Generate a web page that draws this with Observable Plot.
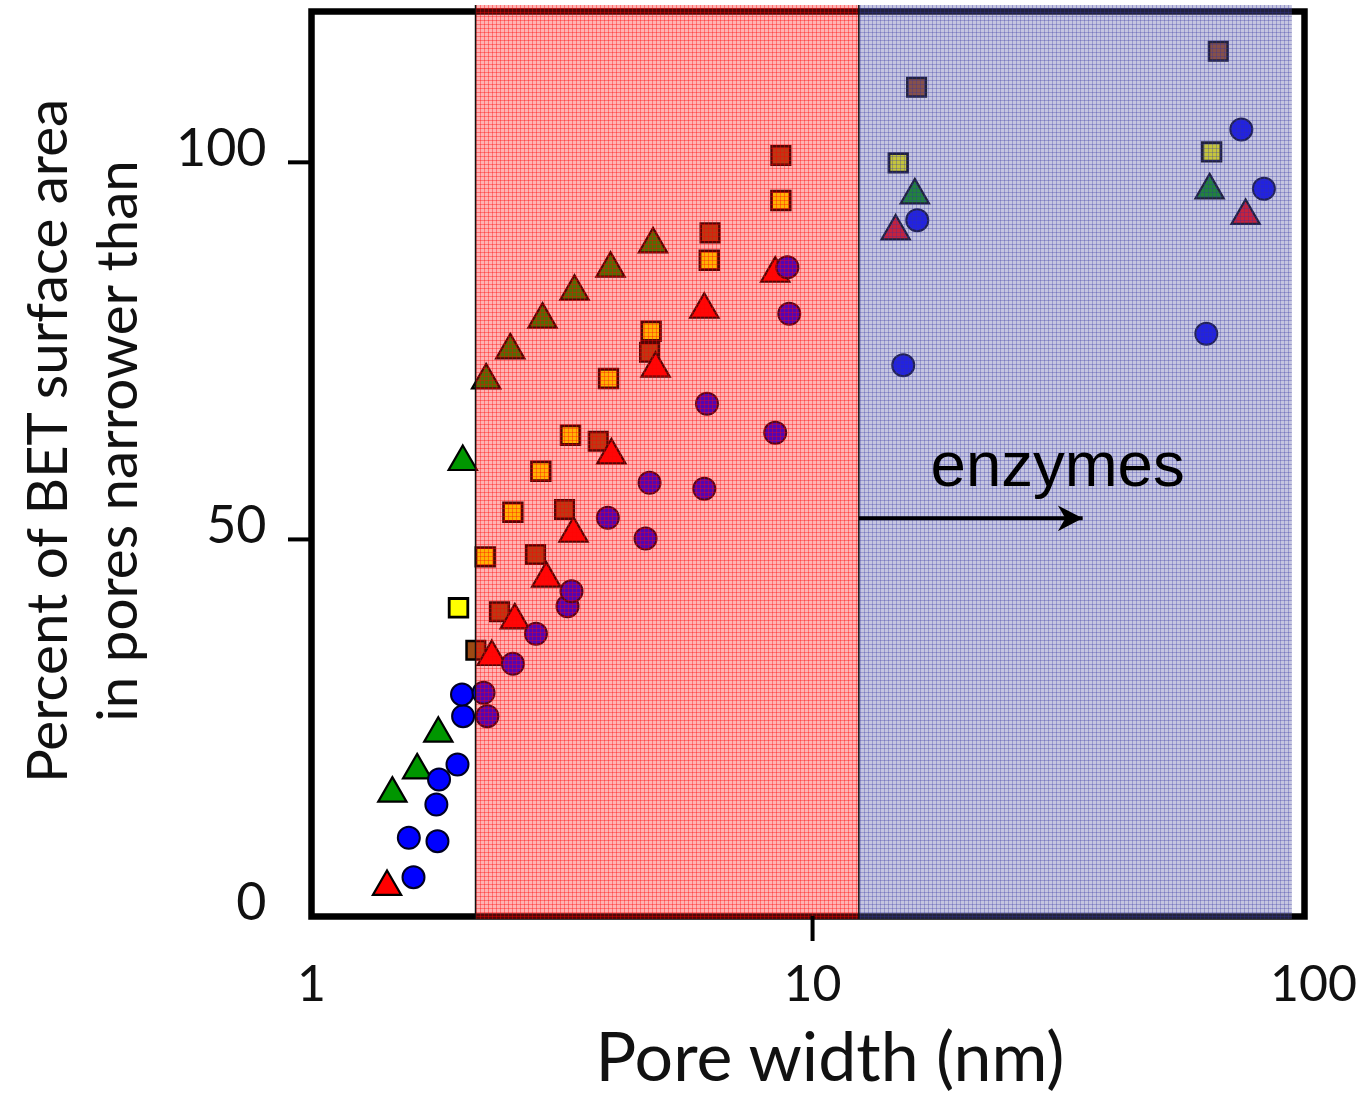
<!DOCTYPE html>
<html>
<head>
<meta charset="utf-8">
<script src="https://cdn.jsdelivr.net/npm/d3@7"></script>
<script src="https://cdn.jsdelivr.net/npm/@observablehq/plot@0.6"></script>
<style>
  html, body { margin: 0; padding: 0; background: #fff; }
  svg { display: block; }
</style>
</head>
<body>
<div id="chart"></div>
<script>
// ---------- data (pore width in nm, percent of BET surface area) ----------
const circleWidth = [1.598, 1.564, 1.784, 1.775, 1.797, 1.956, 2.007, 1.997,
  2.243, 2.205, 2.523, 2.805, 3.243, 3.303, 4.642, 3.903, 6.08, 4.728, 8.423, 6.156, 8.985, 8.907,
  15.17, 16.18, 61.07, 79.58, 71.74];
const circlePct = [5.21, 10.43, 9.98, 14.85, 18.16, 20.15, 26.56, 29.44,
  26.56, 29.66, 33.51, 37.48, 41.14, 43.13, 50.12, 52.86, 56.71, 57.5, 64.13, 67.98, 79.91, 86.09,
  73.1, 92.32, 77.26, 96.49, 104.35];

const greenTriWidth = [1.45, 1.625, 1.791, 2.004, 2.231, 2.493, 2.891, 3.349, 3.952, 4.804, 16.0, 62.0];
const greenTriPct   = [16.31, 19.4, 24.26, 60.29, 71.11, 75.09, 79.16, 82.87, 85.92, 89.14, 95.64, 96.3];

const redTriWidth = [1.415, 2.29, 2.545, 2.941, 3.334, 3.967, 4.861, 6.08, 8.423, 14.65, 73.16];
const redTriPct   = [3.94, 34.43, 39.29, 44.82, 50.78, 61.16, 72.66, 80.48, 85.26, 90.86, 92.91];

const yellowSqWidth = [1.965, 2.222, 2.523, 2.869, 3.288, 3.915, 4.762, 6.221, 8.645, 14.83, 62.58];
const yellowSqPct   = [40.93, 47.69, 53.61, 59.04, 63.82, 71.33, 77.61, 87.02, 94.93, 99.93, 101.39];

const brownSqWidth = [2.128, 2.373, 2.8, 3.199, 3.735, 4.728, 6.244, 8.645, 16.13, 64.53];
const brownSqPct   = [35.31, 40.4, 48.0, 53.96, 63.02, 74.82, 90.65, 100.9, 109.96, 114.73];

// shaded pore-size ranges (nm)
const bandStart = [2.125, 12.37];
const bandEnd   = [12.37, 90.7];
const bandName  = ["red", "blue"];

// annotation
const enzymeText = ["enzymes"];
const enzymeWidth = [17.2];
const enzymePct = [57.1];
const arrowFrom = [12.37];
const arrowTo = [34.6];
const arrowPct = [52.8];

// axes
const xTicks = [1, 10, 100];
const xTickMarks = [10];
const yTicks = [0, 50, 100];
const yTickMarks = [50, 100];
const xTitle = "Pore width (nm)";
const yTitle = "Percent of BET surface area\nin pores narrower than";

// ---------- build tables ----------
const zip = (xs, ys) => xs.map((x, i) => ({x, y: ys[i]}));
const circles = zip(circleWidth, circlePct);
const greenTris = zip(greenTriWidth, greenTriPct);
const redTris = zip(redTriWidth, redTriPct);
const yellowSqs = zip(yellowSqWidth, yellowSqPct);
const brownSqs = zip(brownSqWidth, brownSqPct);
const bands = bandStart.map((s, i) => ({x1: s, x2: bandEnd[i], name: bandName[i]}));
const enzymes = enzymeText.map((t, i) => ({text: t, x: enzymeWidth[i], y: enzymePct[i]}));
const arrows = arrowFrom.map((a, i) => ({x1: a, x2: arrowTo[i], y: arrowPct[i]}));

// stealth-style filled arrow head, tip at origin pointing right
const stealth = {
  draw(context, size) {
    const s = Math.sqrt(size);
    const L = s, W = 0.52 * s;
    context.moveTo(0, 0);
    context.lineTo(-L, -W);
    context.lineTo(-0.7 * L, 0);
    context.lineTo(-L, W);
    context.closePath();
  }
};

const FONT = "Lato, 'Open Sans', sans-serif";

const chart = Plot.plot({
  width: 1361,
  height: 1095,
  marginLeft: 311,
  marginRight: 57,
  marginTop: 11,
  marginBottom: 179,
  style: {fontFamily: FONT, color: "#000", background: "#fff"},
  x: {type: "log", domain: [1, 95.9]},
  y: {domain: [0, 120]},
  marks: [
    Plot.frame({strokeWidth: 6.5}),
    Plot.dot(brownSqs, {x: "x", y: "y", symbol: "square", r: 10.5, fill: "#9c4a14", stroke: "#000", strokeWidth: 2.5}),
    Plot.dot(yellowSqs, {x: "x", y: "y", symbol: "square", r: 10.5, fill: "#ffff00", stroke: "#000", strokeWidth: 2.8}),
    Plot.dot(greenTris, {x: "x", y: "y", symbol: "triangle", r: 10.5, fill: "#009600", stroke: "#000", strokeWidth: 2.2}),
    Plot.dot(redTris, {x: "x", y: "y", symbol: "triangle", r: 10.5, fill: "#ff0000", stroke: "#000", strokeWidth: 2.2}),
    Plot.dot(circles, {x: "x", y: "y", symbol: "circle", r: 11, fill: "#0000ff", stroke: "#000022", strokeWidth: 2}),
    // translucent mesh overlays
    Plot.rect(bands.filter(d => d.name === "red"), {x1: "x1", x2: "x2", fill: "url(#redmesh)", insetTop: -6, insetBottom: -3}),
    Plot.rect(bands.filter(d => d.name === "blue"), {x1: "x1", x2: "x2", fill: "url(#bluemesh)", insetTop: -6, insetBottom: -3}),
    Plot.ruleX(bands, {x: "x1", stroke: "#111", strokeWidth: 1.5, insetTop: -6, insetBottom: -3}),
    // axes
    Plot.axisX({ticks: xTickMarks, tickSize: 25, strokeWidth: 4, tickFormat: () => "", label: null}),
    Plot.axisX({ticks: xTicks, tickSize: 0, tickPadding: 49, fontSize: 50, tickFormat: d => String(d), label: null, fill: "#111"}),
    Plot.axisY({ticks: yTickMarks, tickSize: 23, strokeWidth: 4, tickFormat: () => "", label: null}),
    Plot.axisY({ticks: yTicks, tickSize: 0, tickPadding: 45, fontSize: 52, dy: -13, tickFormat: d => String(d), label: null, fill: "#111"}),
    Plot.text([xTitle], {frameAnchor: "bottom", textAnchor: "middle", dx: 22, dy: 143, fontSize: 68, lineAnchor: "middle", fill: "#111"}),
    Plot.text([yTitle], {frameAnchor: "left", textAnchor: "middle", dx: -232, dy: -23, rotate: -90, fontSize: 56.5, lineHeight: 1.24, lineAnchor: "middle", fill: "#111"}),
    // annotation
    Plot.text(enzymes, {x: "x", y: "y", text: "text", textAnchor: "start", lineAnchor: "bottom", fontSize: 63.5, fontFamily: "'Liberation Sans', Arial, sans-serif", fill: "#000"}),
    Plot.link(arrows, {x1: "x1", x2: "x2", y1: "y", y2: "y", stroke: "#000", strokeWidth: 4}),
    Plot.dot(arrows, {x: "x2", y: "y", symbol: stealth, r: 14, fill: "#000"})
  ]
});

// mesh patterns for the shaded regions
const defs = d3.select(chart).insert("defs", ":first-child");
function mesh(id, base, line) {
  const p = defs.append("pattern").attr("id", id)
    .attr("patternUnits", "userSpaceOnUse").attr("width", 4).attr("height", 4);
  p.append("rect").attr("width", 4).attr("height", 4).attr("fill", base);
  p.append("rect").attr("width", 4).attr("height", 1).attr("fill", line);
  p.append("rect").attr("width", 1).attr("height", 4).attr("fill", line);
}
mesh("redmesh", "rgba(255,20,20,0.32)", "rgba(255,0,0,0.36)");
mesh("bluemesh", "rgba(95,95,170,0.36)", "rgba(50,50,160,0.30)");

document.getElementById("chart").appendChild(chart);
</script>
</body>
</html>
